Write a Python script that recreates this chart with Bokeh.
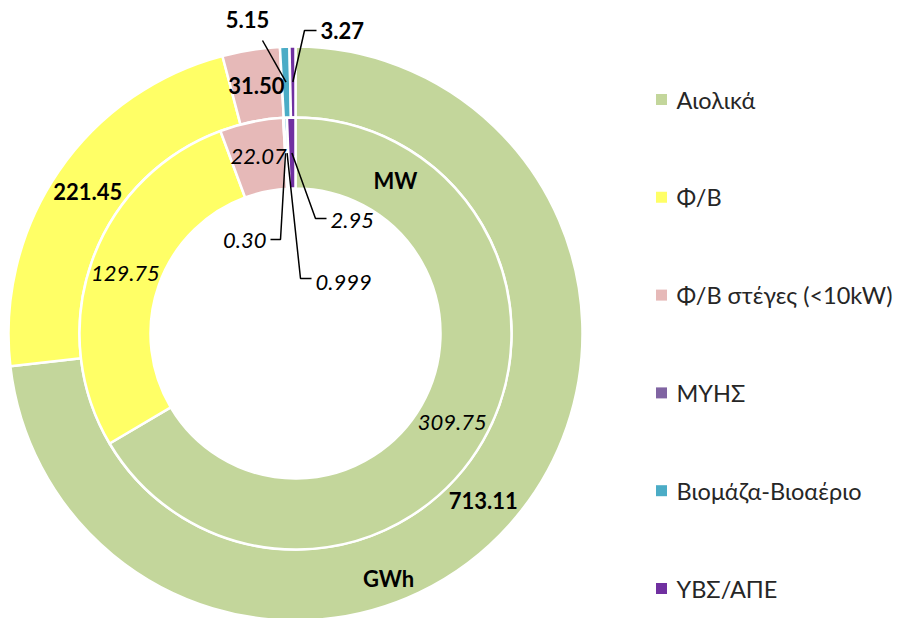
import numpy as np
from bokeh.plotting import figure
from bokeh.models import ColumnDataSource, Range1d
from bokeh.core.properties import value
from bokeh.embed import file_html
from bokeh.resources import INLINE

# ---------------- data ----------------
categories = ["Αιολικά", "Φ/Β", "Φ/Β στέγες (<10kW)", "ΜΥΗΣ", "Βιομάζα-Βιοαέριο", "ΥΒΣ/ΑΠΕ"]
gwh = [713.11, 221.45, 31.50, 0.0, 5.15, 3.27]          # outer ring
mw = [309.75, 129.75, 22.07, 0.30, 0.999, 2.95]          # inner ring
gwh_labels = ["713.11", "221.45", "31.50", "", "5.15", "3.27"]
mw_labels = ["309.75", "129.75", "22.07", "0.30", "0.999", "2.95"]
colors = ["#C3D69B", "#FFFF66", "#E6B9B8", "#8064A2", "#4BACC6", "#7030A0"]

# ---------------- layout (page pixels) ----------------
W, H = 900, 618
PAGE_H = 620
def P(px, py):
    return px, PAGE_H - py

CX, CY = P(295, 333)
R_HOLE, R_SEP, R_OUT = 145, 216, 287
FONT = value("Lato")
FS = "22px"

# callouts for thin slices: text position, alignment, leader path (page px)
outer_callouts = {
    4: dict(text=(247, 19), align="center", path=[(262, 40)]),
    5: dict(text=(320, 30), align="left", path=[(304, 30), (316, 30)]),
}
inner_callouts = {
    3: dict(text=(266, 240), align="right", path=[(280, 239), (270, 239)]),
    4: dict(text=(315, 282), align="left", path=[(300, 278), (311, 278)]),
    5: dict(text=(330, 220), align="left", path=[(315, 218), (326, 218)]),
}

p = figure(width=W, height=H, output_backend="svg", toolbar_location=None,
           x_range=Range1d(0, W), y_range=Range1d(PAGE_H - H, PAGE_H),
           min_border=0, outline_line_color=None)
p.axis.visible = False
p.grid.visible = False
p.background_fill_color = "white"
p.border_fill_color = "white"


def ring(values, labels, r_in, r_out, style, callouts):
    vals = np.array(values, dtype=float)
    total = vals.sum()
    cum = np.concatenate([[0], np.cumsum(vals)]) / total * 2 * np.pi
    keep = vals > 0
    src = ColumnDataSource(dict(
        start=(np.pi / 2 - cum[1:])[keep],
        end=(np.pi / 2 - cum[:-1])[keep],
        color=np.array(colors)[keep],
    ))
    p.annular_wedge(x=CX, y=CY, inner_radius=r_in, outer_radius=r_out,
                    start_angle="start", end_angle="end", color="color",
                    line_color="white", line_width=2.5, source=src)
    mid = np.pi / 2 - (cum[1:] + cum[:-1]) / 2
    rm = (r_in + r_out) / 2
    ax = CX + rm * np.cos(mid)
    ay = CY + rm * np.sin(mid)
    tx, ty, tt, ta = [], [], [], []
    lxs, lys = [], []
    for i, lab in enumerate(labels):
        if not lab:
            continue
        if i in callouts:
            c = callouts[i]
            x, y = P(*c["text"])
            tx.append(x); ty.append(y); tt.append(lab); ta.append(c["align"])
            pts = [(ax[i], ay[i])] + [P(*q) for q in c["path"]]
            lxs.append([q[0] for q in pts]); lys.append([q[1] for q in pts])
        else:
            tx.append(ax[i]); ty.append(ay[i]); tt.append(lab); ta.append("center")
    if lxs:
        p.multi_line(xs=lxs, ys=lys, line_color="black", line_width=1.5)
    p.text(x=tx, y=ty, text=tt, text_align=ta, text_baseline="middle",
           text_font=FONT, text_font_size=FS, text_font_style=style, text_color="black")


ring(gwh, gwh_labels, R_SEP, R_OUT, "bold", outer_callouts)
ring(mw, mw_labels, R_HOLE, R_SEP, "italic", inner_callouts)

# ring titles
p.text(x=[P(395, 180)[0], P(388, 578)[0]], y=[P(395, 180)[1], P(388, 578)[1]],
       text=["MW", "GWh"], text_align="center", text_baseline="middle",
       text_font=FONT, text_font_size=FS, text_font_style="bold", text_color="black")

# legend
leg_y = [PAGE_H - (99 + 97.8 * i) for i in range(len(categories))]
p.rect(x=[661] * len(categories), y=leg_y, width=11, height=11,
       width_units="screen", height_units="screen", color=colors, line_color=None)
p.text(x=[676] * len(categories), y=leg_y, text=categories, text_align="left",
       text_baseline="middle", text_font=FONT, text_font_size="23.5px", text_color="#262626")

open("out.html", "w").write(file_html(p, INLINE))
